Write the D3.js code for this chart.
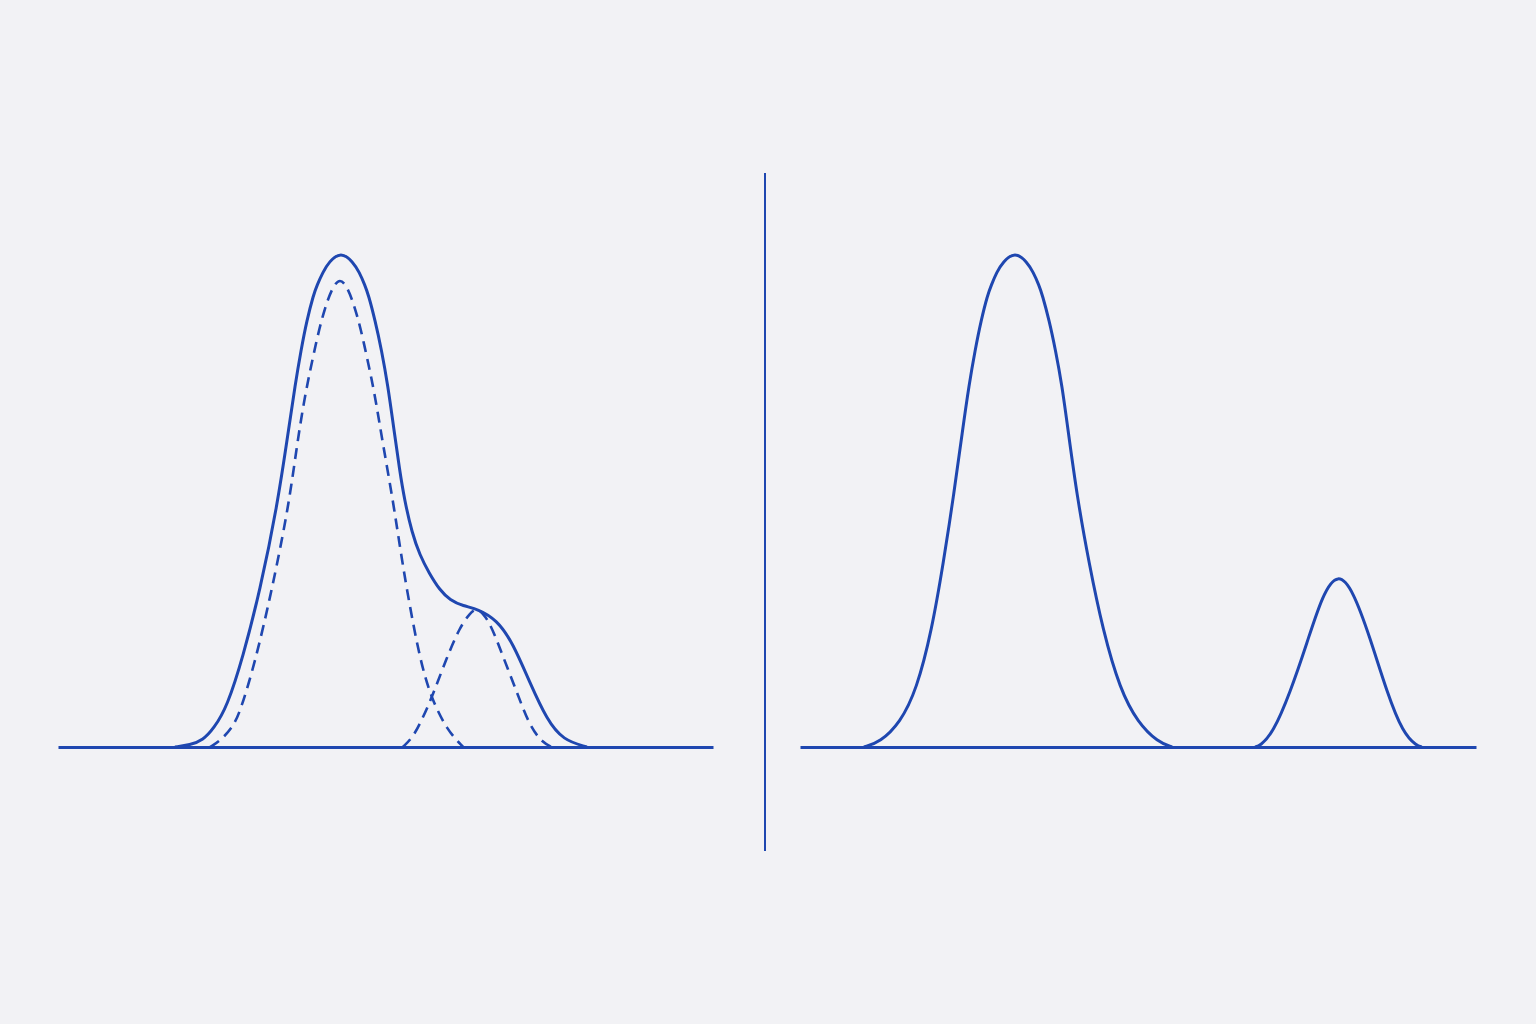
<!DOCTYPE html>
<html>
<head>
<meta charset="utf-8">
<script src="https://cdn.jsdelivr.net/npm/d3@7"></script>
<style>
  html, body { margin: 0; padding: 0; background: #f2f2f5; }
  svg { display: block; }
</style>
</head>
<body>
<div id="vis"></div>
<script>
// curve data, x in [0,20] per panel, y as % of the tallest peak
const mixture = [[3.57,0],[4.03,0.4],[4.43,1.4],[4.76,3.8],[5.16,8.1],[5.65,18.3],[6.17,31.8],[6.69,48.7],[7.04,64.3],[7.24,73.4],[7.42,80.5],[7.60,86.6],[7.80,91.7],[7.91,93.7],[8.09,96.3],[8.27,98.4],[8.64,100.5],[9.01,98.4],[9.20,96.3],[9.37,93.7],[9.48,91.7],[9.68,86.6],[9.88,80.5],[10.07,73.4],[10.26,64.3],[10.43,56.2],[10.58,50.1],[10.81,43.4],[11.05,38.9],[11.33,35.3],[11.66,31.8],[11.97,29.8],[12.37,28.6],[12.82,28.0],[13.40,25.8],[13.89,21.1],[14.41,13.0],[14.93,5.5],[15.42,1.4],[16.15,0]];

const componentA = [[4.64,0],[4.95,1.2],[5.34,4.1],[5.56,7.1],[6.02,17.2],[6.53,31.8],[7.04,48.7],[7.31,61.9],[7.51,70.0],[7.65,74.8],[7.80,79.5],[7.98,84.9],[8.15,89.0],[8.36,93.0],[8.61,95.3],[8.86,93.0],[9.07,89.0],[9.24,84.9],[9.42,79.5],[9.57,74.8],[9.71,70.0],[9.91,61.9],[10.23,49.9],[10.44,40.6],[10.66,31.6],[10.96,20.9],[11.18,14.8],[11.42,9.7],[11.88,3.4],[12.37,0]];

const componentB = [[10.53,0],[10.84,2.0],[11.11,5.5],[11.42,10.1],[11.88,18.3],[12.27,24.3],[12.58,27.2],[12.82,28.4],[13.19,25.4],[13.59,18.3],[14.02,11.0],[14.41,4.1],[14.81,0.8],[15.08,0]];

const peakBig = [[1.89,0],[2.37,1.0],[2.96,4.9],[3.45,11.6],[3.90,23.7],[4.24,37.3],[4.54,50.7],[4.81,64.3],[5.00,73.4],[5.18,80.5],[5.36,86.6],[5.55,91.7],[5.66,93.7],[5.82,96.3],[6.00,98.4],[6.36,100.5],[6.72,98.4],[6.90,96.3],[7.07,93.7],[7.17,91.7],[7.37,86.6],[7.56,80.5],[7.75,73.4],[7.93,64.3],[8.20,50.7],[8.55,37.3],[8.96,23.7],[9.47,11.6],[10.00,4.9],[10.59,1.0],[11.01,0]];

const peakSmall = [[13.46,0],[13.61,0.2],[13.99,2.8],[14.50,11.0],[15.00,21.1],[15.47,31.2],[15.92,35.4],[16.36,31.8],[16.86,22.3],[17.37,11.0],[17.84,2.8],[18.25,0.2],[18.40,0]];

const X_DOMAIN = [0, 20];
const Y_DOMAIN = [0, 100];

// frame
const FRAME_WIDTH = 1536;
const FRAME_HEIGHT = 1024;
const BASE_Y = 747;
const TOP_Y = 254;
const LEFT = {x0: 58, x1: 713};
const RIGHT = {x0: 800, x1: 1476};
const COLOR = "#1f47b0";

const svg = d3.select("#vis")
  .append("svg")
    .attr("width", FRAME_WIDTH)
    .attr("height", FRAME_HEIGHT);

svg.append("rect")
  .attr("width", FRAME_WIDTH)
  .attr("height", FRAME_HEIGHT)
  .attr("fill", "#f2f2f5");

const y = d3.scaleLinear().domain(Y_DOMAIN).range([BASE_Y, TOP_Y]);
const xLeft = d3.scaleLinear().domain(X_DOMAIN).range([LEFT.x0, LEFT.x1]);
const xRight = d3.scaleLinear().domain(X_DOMAIN).range([RIGHT.x0, RIGHT.x1]);

// b-spline smooths out the small reading errors in the points
function lineFor(x) {
  return d3.line()
    .x(d => x(d[0]))
    .y(d => y(d[1]))
    .curve(d3.curveBasis);
}

// baselines, drawn as bottom axes without ticks
[xLeft, xRight].forEach(x => {
  svg.append("g")
    .attr("transform", `translate(0,${BASE_Y})`)
    .call(d3.axisBottom(x).tickValues([]).tickSizeOuter(0))
    .call(g => g.select(".domain").attr("stroke", COLOR).attr("stroke-width", 3));
});

// divider
svg.append("line")
  .attr("x1", 765).attr("x2", 765)
  .attr("y1", 173).attr("y2", 851)
  .attr("stroke", COLOR)
  .attr("stroke-width", 2);

// left panel: components dashed, mixture solid
const lineL = lineFor(xLeft);
[componentA, componentB].forEach(c => {
  svg.append("path")
    .datum(c)
    .attr("d", lineL)
    .attr("fill", "none")
    .attr("stroke", COLOR)
    .attr("stroke-width", 2.6)
    .attr("stroke-dasharray", "11,7");
});

svg.append("path")
  .datum(mixture)
  .attr("d", lineL)
  .attr("fill", "none")
  .attr("stroke", COLOR)
  .attr("stroke-width", 3)
  .attr("stroke-linejoin", "round");

// right panel: two separate peaks
const lineR = lineFor(xRight);
[peakBig, peakSmall].forEach(p => {
  svg.append("path")
    .datum(p)
    .attr("d", lineR)
    .attr("fill", "none")
    .attr("stroke", COLOR)
    .attr("stroke-width", 3)
    .attr("stroke-linejoin", "round");
});
</script>
</body>
</html>
